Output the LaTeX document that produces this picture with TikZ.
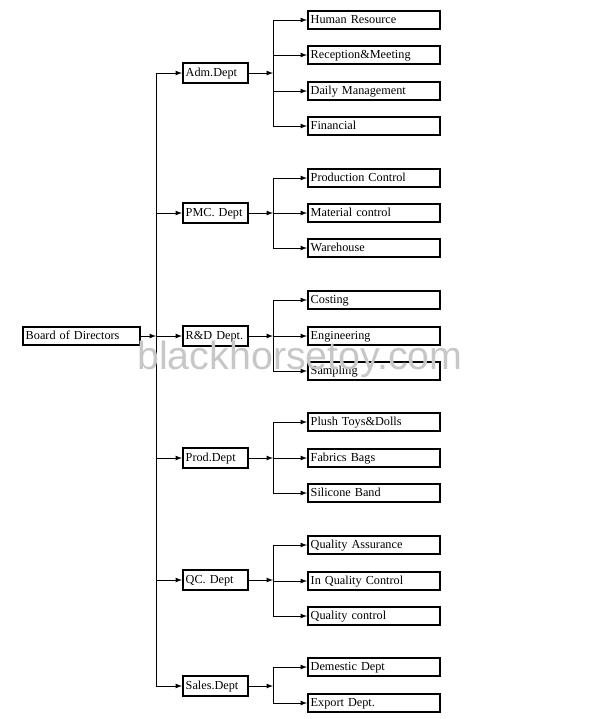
\documentclass[tikz,border=0pt]{standalone}
\usepackage{fontspec}
\setmainfont{Liberation Serif}
\setsansfont{Liberation Sans}
\usetikzlibrary{arrows, positioning}

\begin{document}
\begin{tikzpicture}[
    x=0.025cm, y=-0.025cm,
    every node/.style={draw, rectangle, line width=1.3pt, minimum height=0.45cm, inner xsep=2pt, inner ysep=0pt, text height=6.2pt, text depth=1.8pt, align=left, anchor=west, font=\fontsize{8.7}{10}\selectfont},
    dept/.style={text width=42pt, minimum height=0.5cm},
    unit/.style={text width=90pt},
    arrow/.style={-latex, semithick},
    trunk/.style={semithick}
]
\useasboundingbox (0,0) rectangle (600,719);

\coordinate (main) at (156,336);
\coordinate (sub) at (273,336);

\node[text width=79pt] (board) at (22,336) {Board of Directors};

\node[dept] (adm) at (182,73) {Adm.Dept};
\node[dept] (pmc) at (182,213) {PMC. Dept};
\node[dept] (rd) at (182,336) {R\&D Dept.};
\node[dept] (prod) at (182,458) {Prod.Dept};
\node[dept] (qc) at (182,580) {QC. Dept};
\node[dept] (sales) at (182,686) {Sales.Dept};

\node[unit] (adm1) at (307,20) {Human Resource};
\node[unit] (adm2) at (307,55) {Reception\&Meeting};
\node[unit] (adm3) at (307,91) {Daily Management};
\node[unit] (adm4) at (307,126) {Financial};

\node[unit] (pmc1) at (307,178) {Production Control};
\node[unit] (pmc2) at (307,213) {Material control};
\node[unit] (pmc3) at (307,248) {Warehouse};

\node[unit] (rd1) at (307,300) {Costing};
\node[unit] (rd2) at (307,336) {Engineering};
\node[unit] (rd3) at (307,371) {Sampling};

\node[unit] (prod1) at (307,422) {Plush Toys\&Dolls};
\node[unit] (prod2) at (307,458) {Fabrics Bags};
\node[unit] (prod3) at (307,493) {Silicone Band};

\node[unit] (qc1) at (307,545) {Quality Assurance};
\node[unit] (qc2) at (307,581) {In Quality Control};
\node[unit] (qc3) at (307,616) {Quality control};

\node[unit] (sales1) at (307,667) {Demestic Dept};
\node[unit] (sales2) at (307,703) {Export Dept.};

% main trunk
\draw[arrow] (board) -- (main);
\draw[trunk] (adm -| main) -- (sales -| main);
\draw[arrow] (adm -| main) -- (adm);
\draw[arrow] (pmc -| main) -- (pmc);
\draw[arrow] (main) -- (rd);
\draw[arrow] (prod -| main) -- (prod);
\draw[arrow] (qc -| main) -- (qc);
\draw[arrow] (sales -| main) -- (sales);

% Adm.Dept
\draw[arrow] (adm) -- (adm -| sub);
\draw[trunk] (adm1 -| sub) -- (adm4 -| sub);
\draw[arrow] (adm1 -| sub) -- (adm1);
\draw[arrow] (adm2 -| sub) -- (adm2);
\draw[arrow] (adm3 -| sub) -- (adm3);
\draw[arrow] (adm4 -| sub) -- (adm4);

% PMC. Dept
\draw[arrow] (pmc) -- (pmc -| sub);
\draw[trunk] (pmc1 -| sub) -- (pmc3 -| sub);
\draw[arrow] (pmc1 -| sub) -- (pmc1);
\draw[arrow] (pmc2 -| sub) -- (pmc2);
\draw[arrow] (pmc3 -| sub) -- (pmc3);

% R&D Dept.
\draw[arrow] (rd) -- (sub);
\draw[trunk] (rd1 -| sub) -- (rd3 -| sub);
\draw[arrow] (rd1 -| sub) -- (rd1);
\draw[arrow] (rd2 -| sub) -- (rd2);
\draw[arrow] (rd3 -| sub) -- (rd3);

% Prod.Dept
\draw[arrow] (prod) -- (prod -| sub);
\draw[trunk] (prod1 -| sub) -- (prod3 -| sub);
\draw[arrow] (prod1 -| sub) -- (prod1);
\draw[arrow] (prod2 -| sub) -- (prod2);
\draw[arrow] (prod3 -| sub) -- (prod3);

% QC. Dept
\draw[arrow] (qc) -- (qc -| sub);
\draw[trunk] (qc1 -| sub) -- (qc3 -| sub);
\draw[arrow] (qc1 -| sub) -- (qc1);
\draw[arrow] (qc2 -| sub) -- (qc2);
\draw[arrow] (qc3 -| sub) -- (qc3);

% Sales.Dept
\draw[arrow] (sales) -- (sales -| sub);
\draw[trunk] (sales1 -| sub) -- (sales2 -| sub);
\draw[arrow] (sales1 -| sub) -- (sales1);
\draw[arrow] (sales2 -| sub) -- (sales2);

\node[draw=none, anchor=center, text height=, text depth=, text=black!22, font=\sffamily\fontsize{28}{30}\selectfont] (mark) at (300,359) {blackhorsetoy.com};

\end{tikzpicture}
\end{document}
